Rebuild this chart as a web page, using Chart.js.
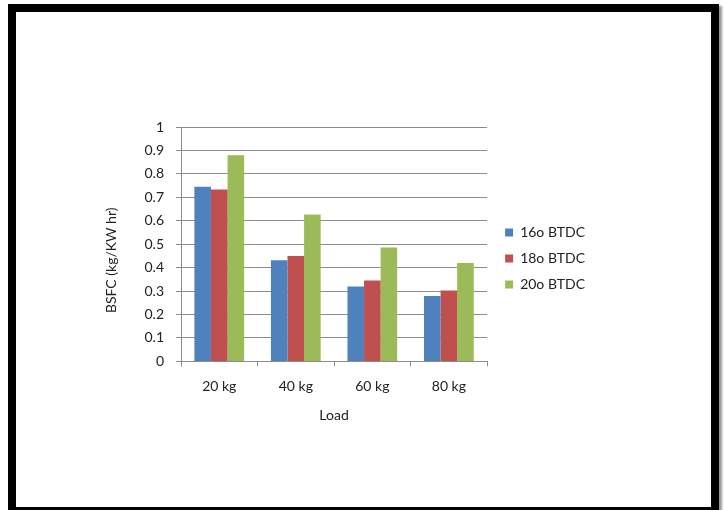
<!DOCTYPE html>
<html>
<head>
<meta charset="utf-8">
<script src="https://cdn.jsdelivr.net/npm/chart.js@4"></script>
<style>
  html, body { margin: 0; padding: 0; background: #fff; overflow: hidden; }
  #frame {
    position: absolute; left: 8px; top: 4px;
    width: 695px; height: 495px;
    border: 8px solid #000;
    box-shadow: 3px 2px 2px #999;
    background: #fff;
  }
  #wrap { position: relative; width: 695px; height: 495px; }
</style>
</head>
<body>
<div id="frame"><div id="wrap"><canvas id="bsfcChart"></canvas></div></div>
<script>
const loads = ['20 kg', '40 kg', '60 kg', '80 kg'];
const seriesNames = ['16o BTDC', '18o BTDC', '20o BTDC'];
const bsfc16 = [0.745, 0.432, 0.320, 0.279];
const bsfc18 = [0.733, 0.450, 0.345, 0.302];
const bsfc20 = [0.880, 0.627, 0.486, 0.420];
const colors = ['#4F81BD', '#C0504D', '#9BBB59'];

const font = { family: 'Lato, "Open Sans", sans-serif', size: 14 };
const textColor = '#222';
const gridColor = '#8c8c8c';

document.addEventListener('DOMContentLoaded', function () {
    const ctx = document.getElementById('bsfcChart').getContext('2d');
    const values = [bsfc16, bsfc18, bsfc20];

    new Chart(ctx, {
        type: 'bar',
        data: {
            labels: loads,
            datasets: seriesNames.map((name, i) => ({
                label: name,
                data: values[i],
                backgroundColor: colors[i],
                borderWidth: 0,
                barPercentage: 1,
                categoryPercentage: 0.65
            }))
        },
        options: {
            responsive: true,
            maintainAspectRatio: false,
            animation: false,
            layout: { padding: { left: 0, top: 115, right: 116, bottom: 83 } },
            plugins: {
                legend: {
                    position: 'right',
                    fullSize: false,
                    maxWidth: 160,
                    title: { display: true, text: ' ', padding: 6, font: font },
                    labels: {
                        boxWidth: 8, boxHeight: 8, padding: 12,
                        font: font, color: textColor
                    }
                },
                tooltip: { enabled: false }
            },
            scales: {
                x: {
                    grid: {
                        offset: true, drawOnChartArea: false, drawTicks: true,
                        tickLength: 5, color: gridColor
                    },
                    border: { color: gridColor },
                    ticks: { font: font, color: textColor, padding: 12 },
                    title: {
                        display: true, text: 'Load', font: font, color: textColor,
                        padding: { top: 0, bottom: 0 }
                    }
                },
                y: {
                    min: 0, max: 1,
                    ticks: {
                        stepSize: 0.1, font: font, color: textColor, padding: 12,
                        callback: (v) => String(Math.round(v * 10) / 10)
                    },
                    grid: { color: gridColor, tickLength: 5 },
                    border: { color: gridColor },
                    title: {
                        display: true,
                        // trailing blanks push the rotated title a little lower
                        text: 'BSFC (kg/KW hr)         ',
                        font: font, color: textColor,
                        padding: { top: 87, bottom: 0 }
                    },
                    afterFit: (s) => { s.width = 165; }
                },
                // empty spacer between the plot and the legend
                gap: {
                    type: 'linear', position: 'right', display: true,
                    grid: { display: false }, border: { display: false },
                    ticks: { display: false },
                    afterFit: (s) => { s.width = 6; }
                }
            }
        }
    });
});
</script>
</body>
</html>
